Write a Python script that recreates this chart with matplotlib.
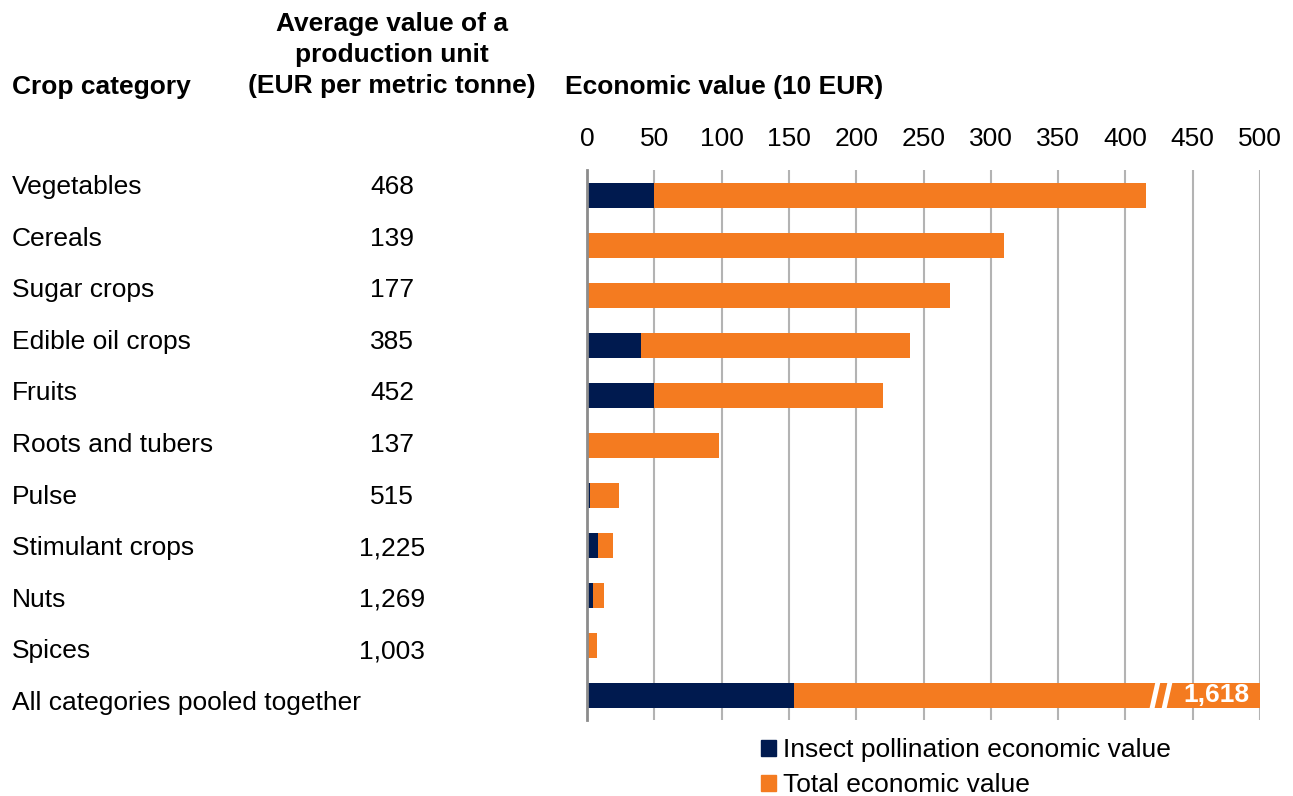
import numpy as np
import matplotlib.pyplot as plt
from matplotlib.patches import Patch

plt.rcParams['font.family'] = ['Liberation Sans', 'DejaVu Sans']

categories = ['Vegetables', 'Cereals', 'Sugar crops', 'Edible oil crops', 'Fruits',
              'Roots and tubers', 'Pulse', 'Stimulant crops', 'Nuts', 'Spices',
              'All categories pooled together']
unit_values = ['468', '139', '177', '385', '452', '137', '515', '1,225', '1,269', '1,003', '']
insect_value = [50, 0, 0, 40, 50, 0, 2, 8, 4.5, 0, 154]
total_value = [415, 310, 270, 240, 220, 98, 24, 19, 13, 7.5, 1618]
xticks = [0, 50, 100, 150, 200, 250, 300, 350, 400, 450, 500]

navy = '#001a4f'
orange = '#f47b20'
fs = 19
W, H = 1293, 796

fig = plt.figure(figsize=(12.93, 7.96), dpi=100)
ax = fig.add_axes([587 / W, 1 - 720 / H, 673 / W, 550 / H])

y = np.arange(len(categories))
insect = np.array(insect_value)
total = np.array(total_value)
ax.barh(y, insect, height=0.5, color=navy, zorder=3)
ax.barh(y, total - insect, left=insect, height=0.5, color=orange, zorder=3)

ax.set_xlim(0, 500)
ax.set_ylim(len(categories) - 0.5, -0.5)
ax.set_xticks(xticks)
ax.xaxis.tick_top()
ax.tick_params(axis='x', length=0, pad=13.5, labelsize=fs)
ax.set_yticks([])
ax.grid(axis='x', color='#b3b3b3', lw=1.5, zorder=0)
for s in ['top', 'right', 'bottom']:
    ax.spines[s].set_visible(False)
ax.spines['left'].set_color('#8c8c8c')
ax.spines['left'].set_linewidth(2)
ax.spines['left'].set_zorder(4)

# break marks on the pooled bar
brk = 422
for dx in (0, 9):
    ax.plot([brk + dx - 2.5, brk + dx + 2.5], [y[-1] + 0.3, y[-1] - 0.3],
            color='white', lw=3.5, zorder=5, solid_capstyle='butt')
ax.text(492.5, y[-1], f'{total_value[-1]:,}', color='white', fontweight='bold',
        fontsize=fs, ha='right', va='center', zorder=6)

# table columns on the left (own row spacing, like the source table)
row0, row_step = 187, 51.6
for i, (c, v) in enumerate(zip(categories, unit_values)):
    ypos = 1 - (row0 + i * row_step) / H
    fig.text(12 / W, ypos, c, fontsize=fs, va='center', ha='left')
    fig.text(392 / W, ypos, v, fontsize=fs, va='center', ha='center')

fig.text(12 / W, 1 - 87 / H, 'Crop category', fontsize=fs, fontweight='bold',
         va='center', ha='left')
fig.text(392 / W, 1 - 55 / H, 'Average value of a\nproduction unit\n(EUR per metric tonne)',
         fontsize=fs, fontweight='bold', va='center', ha='center', linespacing=1.35)
fig.text(565 / W, 1 - 87 / H, 'Economic value (10 EUR)', fontsize=fs,
         fontweight='bold', va='center', ha='left')

handles = [Patch(color=navy, label='Insect pollination economic value'),
           Patch(color=orange, label='Total economic value')]
fig.legend(handles=handles, loc='upper left', bbox_to_anchor=(761 / W, 1 - 738 / H),
           frameon=False, fontsize=fs, handlelength=0.55, handleheight=0.55,
           handletextpad=0.3, labelspacing=0.42, borderpad=0, borderaxespad=0)

fig.savefig('out.png', dpi=100)
